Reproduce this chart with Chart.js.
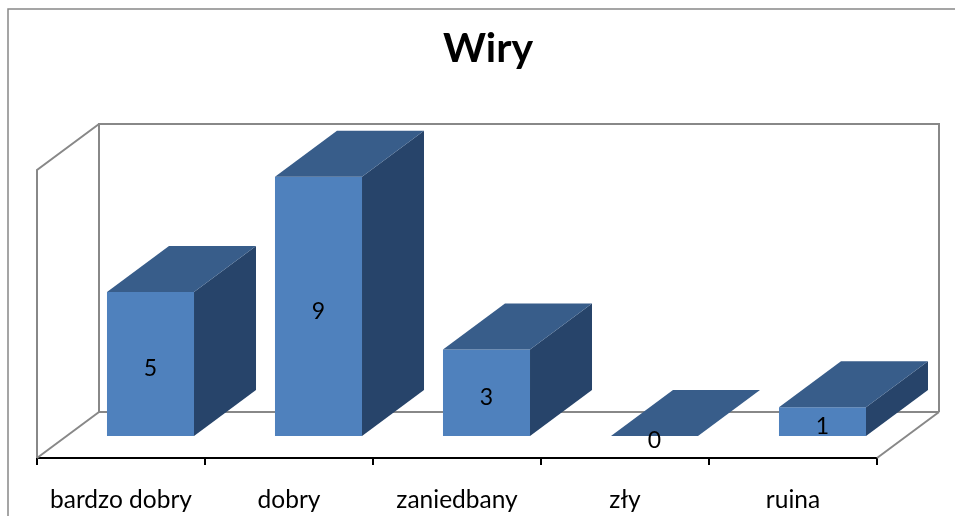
<!DOCTYPE html>
<html>
<head>
<meta charset="utf-8">
<script src="https://cdn.jsdelivr.net/npm/chart.js@4"></script>
<style>
  html, body { margin: 0; padding: 0; background: #ffffff; }
  #wrap { width: 955px; height: 516px; position: relative; }
</style>
</head>
<body>
<div id="wrap"><canvas id="c" width="955" height="516"></canvas></div>
<script>
// ---- data ----
const title = 'Wiry';
const categories = ['bardzo dobry', 'dobry', 'zaniedbany', 'zły', 'ruina'];
const values = [5, 9, 3, 0, 1];
const yMin = 0;
const yMax = 10;

// ---- style ----
const FONT = 'Lato, "Noto Sans", sans-serif';
const FRONT = '#4F81BD';
const TOP = '#385D8A';
const SIDE = '#27446A';
const WALL = '#888888';
const DEPTH_X = 62, DEPTH_Y = -46;     // oblique depth of the floor/walls
const BAR_SHIFT_X = 29.5, BAR_SHIFT_Y = -22; // bars sit half way into the floor

function line(ctx, pts) {
  ctx.beginPath();
  ctx.moveTo(pts[0][0], pts[0][1]);
  for (let i = 1; i < pts.length; i++) ctx.lineTo(pts[i][0], pts[i][1]);
  ctx.stroke();
}

const walls3d = {
  id: 'walls3d',
  beforeDatasetsDraw(chart) {
    const ctx = chart.ctx;
    const x = chart.scales.x, y = chart.scales.y;
    const L = x.left, R = x.right;
    const T = y.getPixelForValue(yMax), B = y.getPixelForValue(yMin);
    ctx.save();
    // outer chart frame
    ctx.strokeStyle = WALL;
    ctx.lineWidth = 1.5;
    line(ctx, [[8, 516], [8, 9], [955, 9]]);
    ctx.lineWidth = 2;
    // back wall
    line(ctx, [[L + DEPTH_X, B + DEPTH_Y], [L + DEPTH_X, T + DEPTH_Y], [R + DEPTH_X, T + DEPTH_Y], [R + DEPTH_X, B + DEPTH_Y]]);
    // floor back edge
    line(ctx, [[L + DEPTH_X, B + DEPTH_Y], [R + DEPTH_X, B + DEPTH_Y]]);
    // side wall
    line(ctx, [[L, B], [L, T], [L + DEPTH_X, T + DEPTH_Y]]);
    line(ctx, [[L, B], [L + DEPTH_X, B + DEPTH_Y]]);
    // floor right edge
    line(ctx, [[R, B], [R + DEPTH_X, B + DEPTH_Y]]);
    // chart title, centred on the whole 3D plot (front + depth)
    ctx.fillStyle = '#000000';
    ctx.font = 'bold 41px ' + FONT;
    ctx.textAlign = 'center';
    ctx.textBaseline = 'alphabetic';
    ctx.fillText(title, (L + R + DEPTH_X) / 2, 62);
    ctx.restore();
    // shift bars into the middle of the floor depth
    ctx.save();
    ctx.translate(BAR_SHIFT_X, BAR_SHIFT_Y);
  },
  afterDatasetsDraw(chart) {
    const ctx = chart.ctx;
    const meta = chart.getDatasetMeta(0);
    meta.data.forEach((el, i) => {
      const p = el.getProps(['x', 'y', 'base', 'width'], true);
      const xl = p.x - p.width / 2, xr = p.x + p.width / 2;
      // side face
      ctx.fillStyle = SIDE;
      ctx.beginPath();
      ctx.moveTo(xr, p.y);
      ctx.lineTo(xr + DEPTH_X, p.y + DEPTH_Y);
      ctx.lineTo(xr + DEPTH_X, p.base + DEPTH_Y);
      ctx.lineTo(xr, p.base);
      ctx.closePath();
      ctx.fill();
      // top face
      ctx.fillStyle = TOP;
      ctx.beginPath();
      ctx.moveTo(xl, p.y);
      ctx.lineTo(xr, p.y);
      ctx.lineTo(xr + DEPTH_X, p.y + DEPTH_Y);
      ctx.lineTo(xl + DEPTH_X, p.y + DEPTH_Y);
      ctx.closePath();
      ctx.fill();
      // value label
      ctx.fillStyle = '#000000';
      ctx.font = '23px ' + FONT;
      ctx.textAlign = 'center';
      ctx.textBaseline = 'middle';
      ctx.fillText(String(values[i]), p.x, (p.y + p.base) / 2 + 5);
    });
    ctx.restore();
  }
};

new Chart(document.getElementById('c'), {
  type: 'bar',
  data: {
    labels: categories,
    datasets: [{
      data: values,
      backgroundColor: FRONT,
      borderWidth: 0,
      categoryPercentage: 1,
      barPercentage: 0.518
    }]
  },
  options: {
    responsive: false,
    animation: false,
    layout: { padding: { left: 37, right: 78, top: 170, bottom: -19 } },
    plugins: {
      legend: { display: false },
      tooltip: { enabled: false },
      title: { display: false }
    },
    scales: {
      x: {
        border: { display: true, color: '#000000', width: 2 },
        grid: { display: true, drawOnChartArea: false, drawTicks: true, tickLength: 7, color: '#000000', lineWidth: 2 },
        ticks: { color: '#000000', font: { family: FONT, size: 24.5 }, padding: 20.3, maxRotation: 0 }
      },
      y: {
        display: false,
        min: yMin,
        max: yMax
      }
    }
  },
  plugins: [walls3d]
});
</script>
</body>
</html>
